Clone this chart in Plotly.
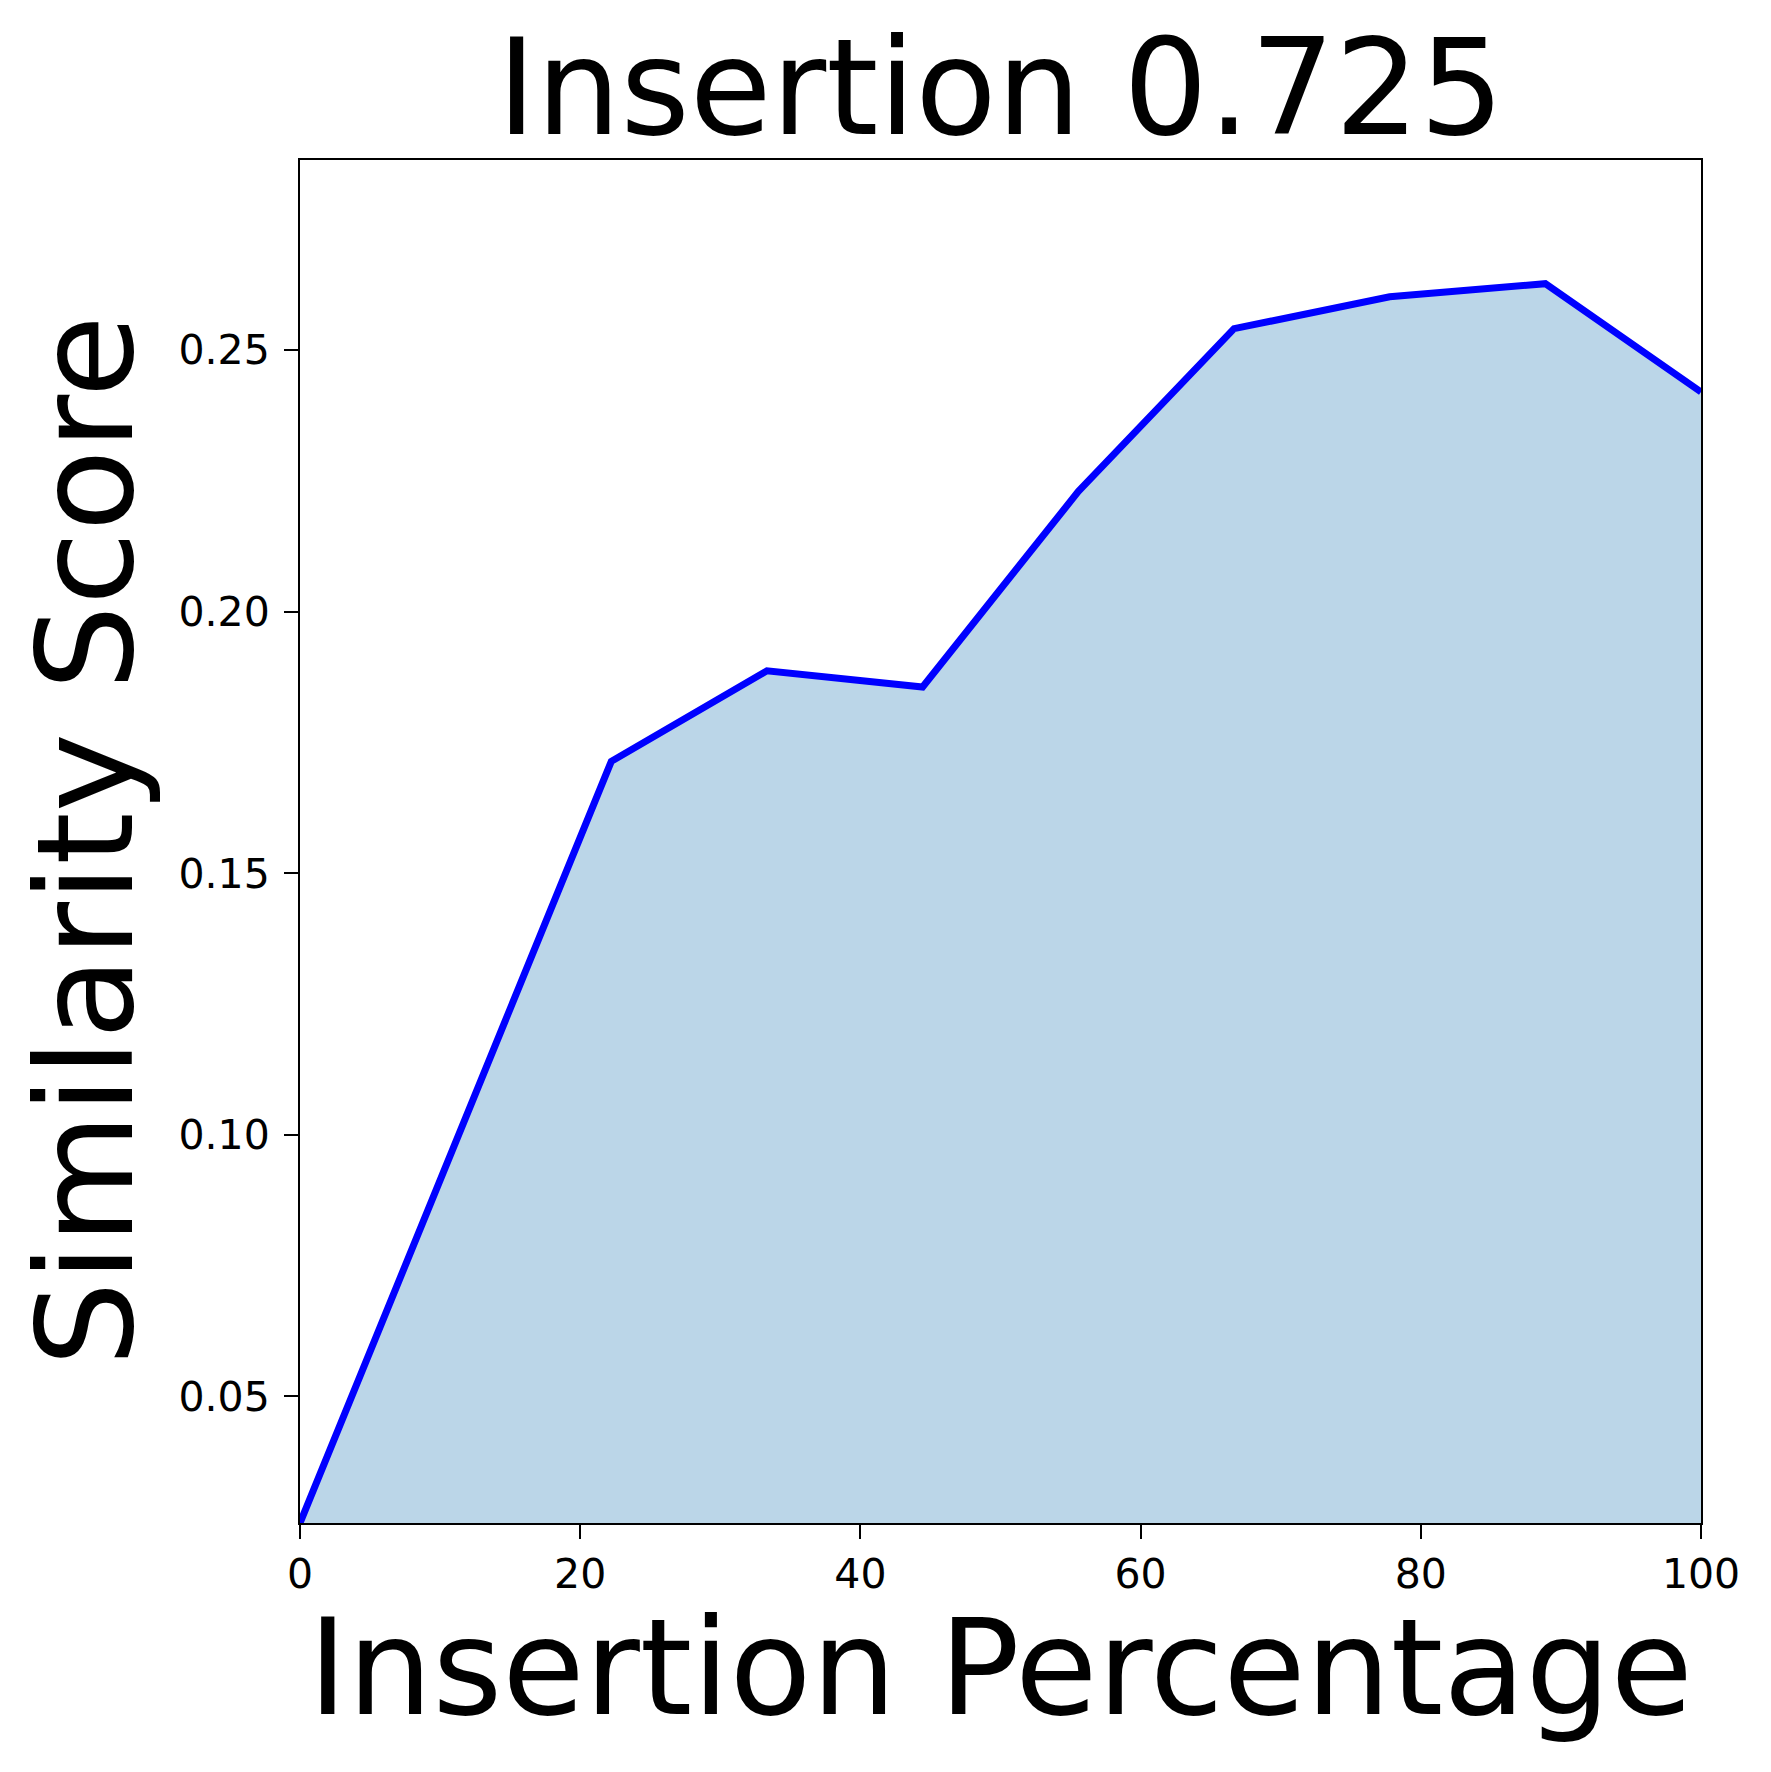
import plotly.graph_objects as go

# insertion curve (10 steps, 0..100 %)
pct = [0, 11.11, 22.22, 33.33, 44.44, 55.56, 66.67, 77.78, 88.89, 100]
score = [0.0258, 0.0986, 0.1714, 0.1887, 0.1856, 0.2230, 0.2541, 0.2602, 0.2627, 0.2420]

x_ticks = [0, 20, 40, 60, 80, 100]
y_ticks = [0.05, 0.10, 0.15, 0.20, 0.25]

title_text = "Insertion 0.725"
x_label = "Insertion Percentage"
y_label = "Similarity Score"

FONT = "DejaVu Sans"

fig = go.Figure()

# filled area + line
fig.add_trace(go.Scatter(
    x=pct, y=score, mode="lines",
    fill="tozeroy", fillcolor="rgb(187,214,232)",
    line=dict(color="#0000ff", width=7),
    showlegend=False,
))

axis_style = dict(
    showline=True, linecolor="black", linewidth=2, mirror=True,
    ticks="outside", ticklen=14, tickwidth=2, tickcolor="black",
    showgrid=False, zeroline=False,
    tickfont=dict(family=FONT, size=41, color="black"),
)

fig.update_xaxes(range=[0, 100], tickvals=x_ticks, ticklabelstandoff=0, **axis_style)
fig.update_yaxes(range=[score[0], max(score) * 1.09], tickvals=y_ticks,
                 tickformat=".2f", ticklabelstandoff=6, **axis_style)

fig.update_layout(
    width=1771, height=1772,
    margin=dict(l=292, r=78, t=152, b=257),
    plot_bgcolor="white", paper_bgcolor="white",
    font=dict(family=FONT, color="black"),
    title=dict(text=title_text, x=0.5, xref="paper", xanchor="center",
               y=1 - 79 / 1772, yref="container", yanchor="middle",
               font=dict(size=133, family=FONT, color="black")),
    annotations=[
        dict(text=x_label, xref="paper", yref="paper", x=0.5, y=0,
             xanchor="center", yanchor="top", yshift=-65, showarrow=False,
             font=dict(size=134, family=FONT, color="black")),
        dict(text=y_label, xref="paper", yref="paper", x=0, y=0.5,
             xanchor="center", yanchor="middle", xshift=-215, textangle=-90,
             showarrow=False,
             font=dict(size=134, family=FONT, color="black")),
    ],
)

fig.write_html("out.html")
